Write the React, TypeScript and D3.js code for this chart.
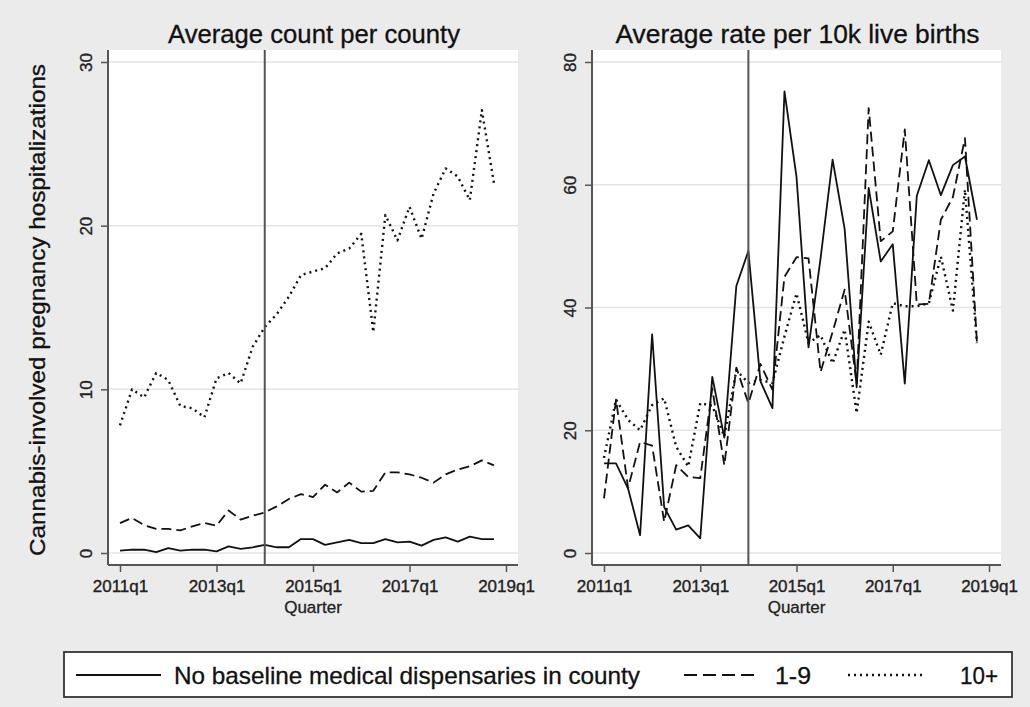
import { useEffect, useRef } from "react"
import * as d3 from "d3"

// quarters 2011q1 .. 2018q4
const quarters = [
  "2011q1", "2011q2", "2011q3", "2011q4", "2012q1", "2012q2", "2012q3", "2012q4",
  "2013q1", "2013q2", "2013q3", "2013q4", "2014q1", "2014q2", "2014q3", "2014q4",
  "2015q1", "2015q2", "2015q3", "2015q4", "2016q1", "2016q2", "2016q3", "2016q4",
  "2017q1", "2017q2", "2017q3", "2017q4", "2018q1", "2018q2", "2018q3", "2018q4",
]

const xTickLabels = ["2011q1", "2013q1", "2015q1", "2017q1", "2019q1"]
const policyQuarter = "2014q1"

// average count per county
const countNone = [0.15, 0.2, 0.2, 0.05, 0.3, 0.15, 0.2, 0.2, 0.1, 0.4, 0.25, 0.35, 0.5, 0.35, 0.35, 0.85,
  0.85, 0.5, 0.65, 0.8, 0.6, 0.6, 0.85, 0.65, 0.7, 0.45, 0.8, 0.95, 0.7, 1.0, 0.85, 0.85]
const countLow = [1.83, 2.14, 1.7, 1.47, 1.47, 1.38, 1.63, 1.83, 1.67, 2.6, 2.04, 2.28, 2.48, 2.85, 3.3, 3.6,
  3.42, 4.17, 3.7, 4.3, 3.75, 3.8, 4.93, 4.93, 4.8, 4.6, 4.3, 4.8, 5.1, 5.3, 5.66, 5.35]
const countHigh = [7.8, 10.0, 9.5, 11.0, 10.57, 8.98, 8.84, 8.29, 10.67, 11.0, 10.36, 12.6, 13.8, 14.6, 15.66, 16.98,
  17.2, 17.4, 18.3, 18.6, 19.5, 13.5, 20.65, 19.1, 21.15, 19.2, 21.97, 23.5, 23.0, 21.56, 27.06, 22.6]

// average rate per 10k live births
const rateNone = [14.6, 14.6, 10.5, 2.9, 35.6, 7.5, 3.8, 4.5, 2.4, 28.7, 18.8, 43.5, 49.2, 28, 23.6, 75.2,
  61.3, 33.5, 48, 64.1, 52.8, 27, 59.5, 47.5, 50.3, 27.6, 58.2, 64, 58.3, 63.2, 64.6, 54.3]
const rateLow = [8.9, 25, 10.6, 18.1, 17.5, 5.1, 14.3, 12.4, 12.2, 26.8, 14.3, 30.2, 24.4, 30.8, 26.6, 45,
  48.2, 48, 29.5, 36, 42.9, 27.5, 72.5, 50.8, 52.4, 69, 40.5, 40.6, 54.3, 58, 67.6, 34.2]
const rateHigh = [15.5, 25, 21.7, 20, 24.1, 25.2, 17.3, 14.1, 24.4, 24, 19, 29.8, 27.7, 28.2, 27.7, 35.3,
  42.3, 34.2, 35.5, 30.9, 36.4, 22.8, 37.7, 32.3, 40.7, 40.2, 40.2, 40.7, 48.3, 39.5, 59.2, 34.2]

const legendLabels = ["No baseline medical dispensaries in county", "1-9", "10+"]

const font = "'Liberation Sans', Arial, Helvetica, sans-serif"
const dashes = [null, "10,5", "2,4"]
const widths = [1.8, 1.8, 2.4]

export default function App() {
  const ref = useRef<SVGSVGElement>(null)

  useEffect(() => {
    const svg = d3.select(ref.current)
    svg.selectAll("*").remove()

    svg.append("rect").attr("width", 1030).attr("height", 707).attr("fill", "#ebebeb")

    const top = 50, bottom = 565

    const panels = [
      { x0: 108, x1: 518, max: 30, ticks: [0, 10, 20, 30], title: "Average count per county", titleLen: 292,
        series: [countNone, countLow, countHigh] },
      { x0: 592, x1: 1001, max: 80, ticks: [0, 20, 40, 60, 80], title: "Average rate per 10k live births", titleLen: 364,
        series: [rateNone, rateLow, rateHigh] },
    ]

    panels.forEach((p) => {
      const xScale = d3.scaleLinear().domain([0, quarters.length]).range([p.x0 + 12, p.x1 - 12])
      const yScale = d3.scaleLinear().domain([0, p.max]).range([553, 62])
      const g = svg.append("g")

      g.append("rect")
        .attr("x", p.x0).attr("y", top)
        .attr("width", p.x1 - p.x0).attr("height", bottom - top)
        .attr("fill", "white")

      g.selectAll(".grid")
        .data(p.ticks)
        .join("line")
        .attr("class", "grid")
        .attr("x1", p.x0).attr("x2", p.x1)
        .attr("y1", (d) => yScale(d)).attr("y2", (d) => yScale(d))
        .attr("stroke", "#e4e4e4")
        .attr("stroke-width", 1.5)

      const line = d3.line<number>()
        .x((d, i) => xScale(i))
        .y((d) => yScale(d))

      p.series.forEach((s, k) => {
        g.append("path")
          .attr("d", line(s))
          .attr("fill", "none")
          .attr("stroke", "#111")
          .attr("stroke-width", widths[k])
          .attr("stroke-dasharray", dashes[k])
          .attr("stroke-linejoin", "round")
      })

      const vx = xScale(quarters.indexOf(policyQuarter))
      g.append("line")
        .attr("x1", vx).attr("x2", vx).attr("y1", top).attr("y2", bottom)
        .attr("stroke", "#555").attr("stroke-width", 2)

      // y axis
      const yAxis = d3.axisLeft(yScale).tickValues(p.ticks).tickSize(7).tickSizeOuter(0)
      const ya = g.append("g").attr("transform", `translate(${p.x0},0)`).call(yAxis)
      ya.select(".domain").remove()
      ya.selectAll(".tick line").attr("stroke", "#555").attr("stroke-width", 1.5)
      ya.selectAll(".tick text")
        .attr("transform", "rotate(-90)")
        .attr("x", 0).attr("y", -16).attr("dy", 0)
        .attr("text-anchor", "middle")
        .attr("fill", "#222")
        .attr("stroke", "#222").attr("stroke-width", 0.35)
        .style("font-size", "17px")
        .style("font-family", font)

      // x axis
      const xAxis = d3.axisBottom(xScale)
        .tickValues(xTickLabels.map((_, i) => i * 8))
        .tickFormat((d, i) => xTickLabels[i])
        .tickSize(7).tickPadding(8).tickSizeOuter(0)
      const xa = g.append("g").attr("transform", `translate(0,${bottom})`).call(xAxis)
      xa.select(".domain").remove()
      xa.selectAll(".tick line").attr("stroke", "#555").attr("stroke-width", 1.5)
      xa.selectAll(".tick text")
        .attr("fill", "#222")
        .attr("stroke", "#222").attr("stroke-width", 0.35)
        .style("font-size", "17px")
        .style("font-family", font)

      g.append("line")
        .attr("x1", p.x0).attr("x2", p.x0).attr("y1", top).attr("y2", bottom)
        .attr("stroke", "#555").attr("stroke-width", 2)
      g.append("line")
        .attr("x1", p.x0).attr("x2", p.x1).attr("y1", bottom).attr("y2", bottom)
        .attr("stroke", "#555").attr("stroke-width", 2)

      g.append("text")
        .attr("x", xScale(16)).attr("y", 613)
        .attr("text-anchor", "middle")
        .attr("fill", "#222")
        .attr("stroke", "#222").attr("stroke-width", 0.3)
        .style("font-size", "17px")
        .style("font-family", font)
        .text("Quarter")

      g.append("text")
        .attr("x", (p.x0 + p.x1) / 2 + 1).attr("y", 43)
        .attr("text-anchor", "middle")
        .attr("textLength", p.titleLen)
        .attr("lengthAdjust", "spacingAndGlyphs")
        .attr("fill", "#111")
        .attr("stroke", "#111").attr("stroke-width", 0.3)
        .style("font-size", "25px")
        .style("font-family", font)
        .text(p.title)
    })

    svg.append("text")
      .attr("transform", "translate(45,310) rotate(-90)")
      .attr("text-anchor", "middle")
      .attr("textLength", 492)
      .attr("lengthAdjust", "spacingAndGlyphs")
      .attr("fill", "#111")
      .attr("stroke", "#111").attr("stroke-width", 0.3)
      .style("font-size", "22px")
      .style("font-family", font)
      .text("Cannabis-involved pregnancy hospitalizations")

    // legend
    const lg = svg.append("g")
    lg.append("rect")
      .attr("x", 64).attr("y", 652).attr("width", 948).attr("height", 45)
      .attr("fill", "white").attr("stroke", "#333").attr("stroke-width", 1.8)

    const items = [
      { x1: 76, x2: 161, tx: 174, len: 466 },
      { x1: 684, x2: 757, tx: 775, len: 36 },
      { x1: 848, x2: 923, tx: 960, len: 38 },
    ]
    items.forEach((it, k) => {
      lg.append("line")
        .attr("x1", it.x1).attr("x2", it.x2).attr("y1", 675).attr("y2", 675)
        .attr("stroke", "#111")
        .attr("stroke-width", widths[k])
        .attr("stroke-dasharray", k === 1 ? "13,6" : dashes[k])
      lg.append("text")
        .attr("x", it.tx).attr("y", 684)
        .attr("textLength", it.len)
        .attr("lengthAdjust", "spacingAndGlyphs")
        .attr("fill", "#111")
        .attr("stroke", "#111").attr("stroke-width", 0.3)
        .style("font-size", "24px")
        .style("font-family", font)
        .text(legendLabels[k])
    })
  }, [])

  return (
    <svg ref={ref} width={1030} height={707}
      style={{ position: "absolute", left: 0, top: 0, display: "block" }} />
  )
}
